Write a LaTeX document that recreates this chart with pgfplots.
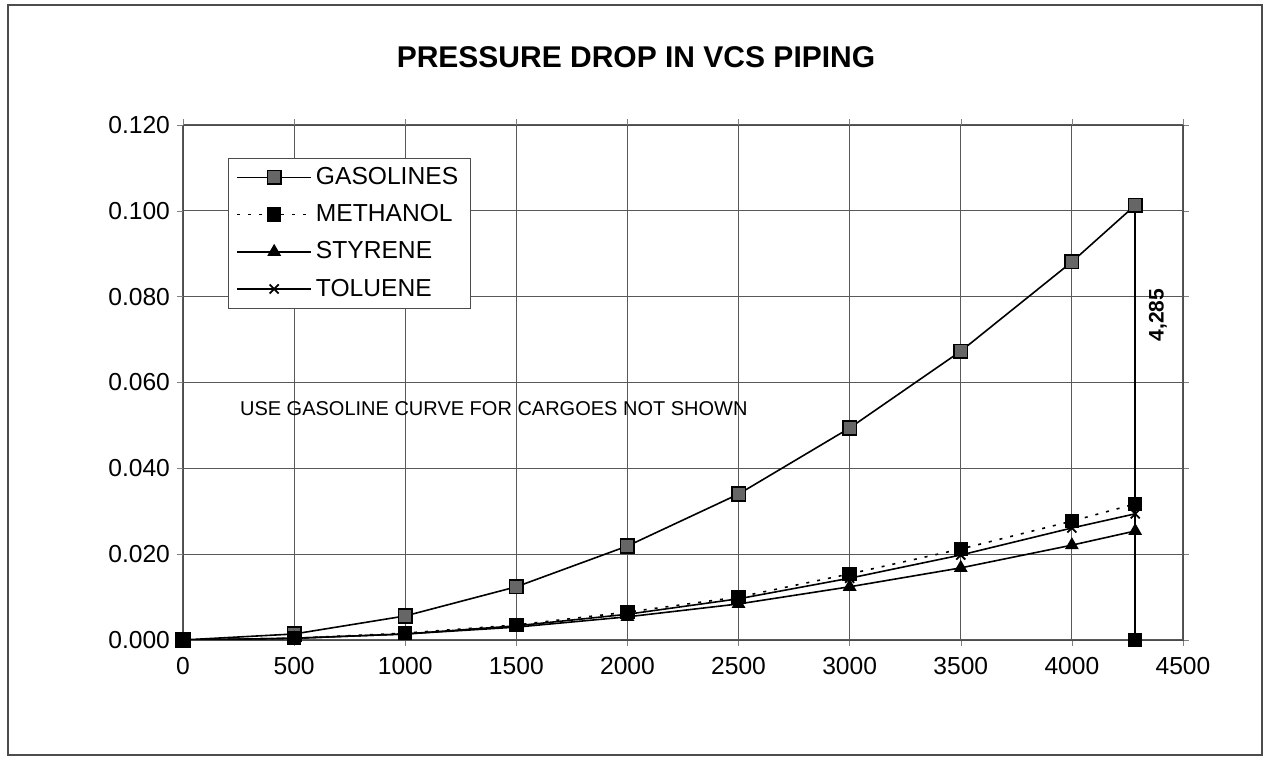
\documentclass[border=0pt]{standalone}
\usepackage{pgfplots}
\pgfplotsset{compat=1.18}
\usepackage{fontspec}
\setmainfont{Liberation Sans}
\begin{document}
\begin{tikzpicture}
\path[use as bounding box] (-91.5pt,-60pt) rectangle (541pt,320pt);
\draw[black!70, line width=0.8pt] (-87.5pt,-57.5pt) rectangle (539.5pt,317.5pt);
\node[font=\fontsize{15}{18}\selectfont\bfseries] at (226.5pt,291.5pt) {PRESSURE DROP IN VCS PIPING};
\begin{axis}[
  scale only axis, width=500pt, height=257.5pt,
  xmin=0, xmax=4500, ymin=0, ymax=0.12,
  xtick={0,500,...,4500}, ytick={0,0.02,...,0.12},
  grid=major, grid style={black!65, line width=0.5pt},
  axis line style={black!70},
  tick align=outside, major tick length=3pt,
  tick label style={font=\fontsize{12.3}{14}\selectfont},
  xticklabel style={yshift=-2pt},
  /pgf/number format/assume math mode=true,
  xticklabel style={/pgf/number format/.cd, fixed, 1000 sep={}},
  yticklabel style={/pgf/number format/.cd, fixed, fixed zerofill, precision=3},
  scaled y ticks=false,
  legend style={at={(0.045,0.936)}, anchor=north west, draw=black!70, font=\fontsize{12.3}{14}\selectfont, row sep=4.5pt, inner xsep=4pt, inner ysep=2.5pt},
  legend cell align=left,
  legend image code/.code={\draw[mark repeat=2,mark phase=2] plot coordinates {(0cm,0cm) (0.65cm,0cm) (1.3cm,0cm)};},
]
\addplot[black, line width=0.8pt, mark=square*, mark size=3.2pt, mark options={fill=black}, forget plot] coordinates {
(4285,0) (4285,0.1013)};
\addplot[black, line width=0.8pt, mark=square*, mark size=3.4pt, mark options={fill=black!60, draw=black, solid}] coordinates {
(0,0) (500,0.0014) (1000,0.0056) (1500,0.0124) (2000,0.0219) (2500,0.0340) (3000,0.0494) (3500,0.0673) (4000,0.0881) (4285,0.1013)};
\addlegendentry{GASOLINES}
\addplot[black, line width=0.8pt, dash pattern=on 1.5pt off 4pt, mark=square*, mark size=3.2pt, mark options={fill=black, solid}] coordinates {
(0,0) (500,0.0004) (1000,0.0016) (1500,0.0035) (2000,0.0065) (2500,0.0100) (3000,0.0154) (3500,0.0212) (4000,0.0277) (4285,0.0317)};
\addlegendentry{METHANOL}
\addplot[black, line width=0.8pt, mark=triangle*, mark size=3.2pt, mark options={fill=black, solid}] coordinates {
(0,0) (500,0.0004) (1000,0.0014) (1500,0.0030) (2000,0.0054) (2500,0.0084) (3000,0.0124) (3500,0.0168) (4000,0.0221) (4285,0.0254)};
\addlegendentry{STYRENE}
\addplot[black, line width=0.8pt, mark=x, mark size=3.2pt, mark options={solid, line width=0.9pt}] coordinates {
(0,0) (500,0.0004) (1000,0.0014) (1500,0.0033) (2000,0.0060) (2500,0.0096) (3000,0.0144) (3500,0.0198) (4000,0.0261) (4285,0.0294)};
\addlegendentry{TOLUENE}
\node[anchor=west, font=\fontsize{10}{12}\selectfont] at (axis cs:225,0.054) {USE GASOLINE CURVE FOR CARGOES NOT SHOWN};
\node[rotate=90, font=\fontsize{10.5}{12}\selectfont\bfseries] at (axis cs:4387,0.0757) {4,285};
\end{axis}
\end{tikzpicture}
\end{document}
